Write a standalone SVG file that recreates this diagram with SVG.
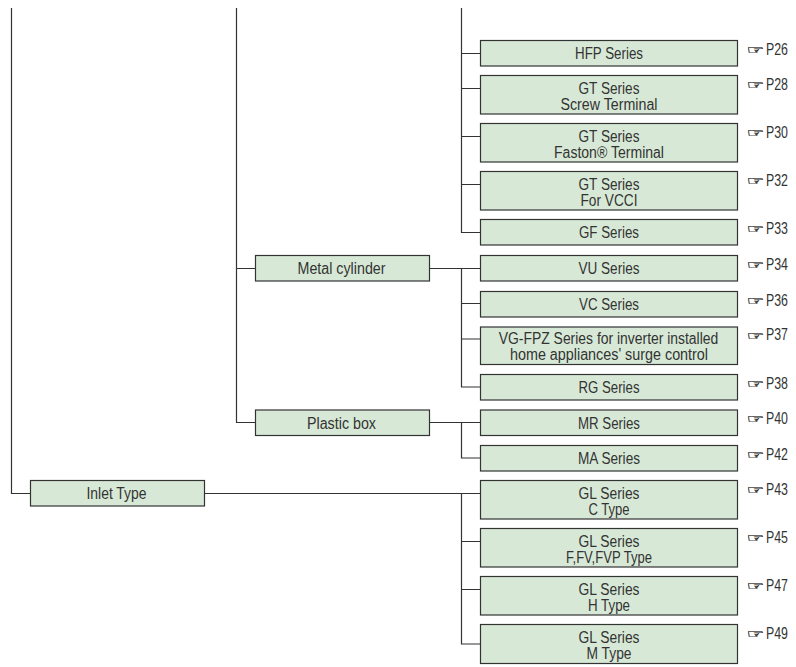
<svg xmlns="http://www.w3.org/2000/svg" width="796" height="667" viewBox="0 0 796 667">
<style>
.b{fill:#d7e9d6;stroke:#333;stroke-width:1.2}
.t{font-family:"Liberation Sans",Arial,sans-serif;font-size:16px;fill:#333;text-anchor:middle}
.r{font-family:"Liberation Sans",Arial,sans-serif;font-size:16px;fill:#333}
.h{font-family:"DejaVu Sans",sans-serif;font-size:12px;fill:#222;stroke:#222;stroke-width:.2}
.c{fill:none;stroke:#333;stroke-width:1.2}
</style>
<rect width="796" height="667" fill="#fff"/>
<g id="connectors" class="c">
<path d="M11.5 8V493.5H30.5"/>
<path d="M236.5 8V422.5H255.5M236.5 268.5H255.5"/>
<path d="M461.5 8V232.5H480.5M461.5 53.5H480.5M461.5 88.5H480.5M461.5 136.5H480.5M461.5 184.5H480.5"/>
<path d="M429.5 268.5H480.5M461.5 268.5V387H480.5M461.5 303.5H480.5M461.5 339H480.5"/>
<path d="M429.5 422.5H480.5M461.5 422.5V458H480.5"/>
<path d="M204.5 493.5H480.5M461.5 493.5V644H480.5M461.5 541.5H480.5M461.5 589.5H480.5"/>
</g>
<g id="n-hfp"><rect class="b" x="480.5" y="40.5" width="257" height="25.5"/><text class="t" x="609" y="59" textLength="68" lengthAdjust="spacingAndGlyphs">HFP Series</text><text x="746.5" y="54" class="h" textLength="18" lengthAdjust="spacingAndGlyphs">☞</text><text x="766" y="54.5" class="r" textLength="22" lengthAdjust="spacingAndGlyphs">P26</text></g>
<g id="n-gt1"><rect class="b" x="480.5" y="75.5" width="257" height="38.5"/><text class="t" x="609" y="93.5" textLength="61" lengthAdjust="spacingAndGlyphs">GT Series</text><text class="t" x="609" y="109.5" textLength="97" lengthAdjust="spacingAndGlyphs">Screw Terminal</text><text x="746.5" y="89" class="h" textLength="18" lengthAdjust="spacingAndGlyphs">☞</text><text x="766" y="89.5" class="r" textLength="22" lengthAdjust="spacingAndGlyphs">P28</text></g>
<g id="n-gt2"><rect class="b" x="480.5" y="123.5" width="257" height="38.5"/><text class="t" x="609" y="141.5" textLength="61" lengthAdjust="spacingAndGlyphs">GT Series</text><text class="t" x="609" y="157.5" textLength="110" lengthAdjust="spacingAndGlyphs">Faston® Terminal</text><text x="746.5" y="137" class="h" textLength="18" lengthAdjust="spacingAndGlyphs">☞</text><text x="766" y="137.5" class="r" textLength="22" lengthAdjust="spacingAndGlyphs">P30</text></g>
<g id="n-gt3"><rect class="b" x="480.5" y="171.5" width="257" height="38.5"/><text class="t" x="609" y="189.5" textLength="61" lengthAdjust="spacingAndGlyphs">GT Series</text><text class="t" x="609" y="205.5" textLength="57" lengthAdjust="spacingAndGlyphs">For VCCI</text><text x="746.5" y="185" class="h" textLength="18" lengthAdjust="spacingAndGlyphs">☞</text><text x="766" y="185.5" class="r" textLength="22" lengthAdjust="spacingAndGlyphs">P32</text></g>
<g id="n-gf"><rect class="b" x="480.5" y="219.5" width="257" height="25.5"/><text class="t" x="609" y="238" textLength="60" lengthAdjust="spacingAndGlyphs">GF Series</text><text x="746.5" y="233" class="h" textLength="18" lengthAdjust="spacingAndGlyphs">☞</text><text x="766" y="233.5" class="r" textLength="22" lengthAdjust="spacingAndGlyphs">P33</text></g>
<g id="n-metal"><rect class="b" x="255.5" y="255.5" width="174" height="25.5"/><text class="t" x="341.5" y="274" textLength="88" lengthAdjust="spacingAndGlyphs">Metal cylinder</text></g>
<g id="n-vu"><rect class="b" x="480.5" y="255.5" width="257" height="25.5"/><text class="t" x="609" y="274" textLength="61" lengthAdjust="spacingAndGlyphs">VU Series</text><text x="746.5" y="269" class="h" textLength="18" lengthAdjust="spacingAndGlyphs">☞</text><text x="766" y="269.5" class="r" textLength="22" lengthAdjust="spacingAndGlyphs">P34</text></g>
<g id="n-vc"><rect class="b" x="480.5" y="291.5" width="257" height="25.5"/><text class="t" x="609" y="310" textLength="60" lengthAdjust="spacingAndGlyphs">VC Series</text><text x="746.5" y="305" class="h" textLength="18" lengthAdjust="spacingAndGlyphs">☞</text><text x="766" y="305.5" class="r" textLength="22" lengthAdjust="spacingAndGlyphs">P36</text></g>
<g id="n-vg"><rect class="b" x="480.5" y="327" width="257" height="37.5"/><text class="t" transform="translate(608.5 344) scale(.87 1)">VG-FPZ Series for inverter installed</text><text class="t" x="609" y="360" textLength="198" lengthAdjust="spacingAndGlyphs">home appliances' surge control</text><text x="746.5" y="339.5" class="h" textLength="18" lengthAdjust="spacingAndGlyphs">☞</text><text x="766" y="340" class="r" textLength="22" lengthAdjust="spacingAndGlyphs">P37</text></g>
<g id="n-rg"><rect class="b" x="480.5" y="374.5" width="257" height="25.5"/><text class="t" x="609" y="393" textLength="61" lengthAdjust="spacingAndGlyphs">RG Series</text><text x="746.5" y="388" class="h" textLength="18" lengthAdjust="spacingAndGlyphs">☞</text><text x="766" y="388.5" class="r" textLength="22" lengthAdjust="spacingAndGlyphs">P38</text></g>
<g id="n-plastic"><rect class="b" x="255.5" y="410" width="174" height="25.5"/><text class="t" x="341.5" y="429" textLength="69" lengthAdjust="spacingAndGlyphs">Plastic box</text></g>
<g id="n-mr"><rect class="b" x="480.5" y="410" width="257" height="25.5"/><text class="t" x="609" y="429" textLength="62" lengthAdjust="spacingAndGlyphs">MR Series</text><text x="746.5" y="423" class="h" textLength="18" lengthAdjust="spacingAndGlyphs">☞</text><text x="766" y="423.5" class="r" textLength="22" lengthAdjust="spacingAndGlyphs">P40</text></g>
<g id="n-ma"><rect class="b" x="480.5" y="445.5" width="257" height="25.5"/><text class="t" x="609" y="464" textLength="62" lengthAdjust="spacingAndGlyphs">MA Series</text><text x="746.5" y="459" class="h" textLength="18" lengthAdjust="spacingAndGlyphs">☞</text><text x="766" y="459.5" class="r" textLength="22" lengthAdjust="spacingAndGlyphs">P42</text></g>
<g id="n-inlet"><rect class="b" x="30.5" y="480.5" width="174" height="25.5"/><text class="t" x="116.5" y="499" textLength="60" lengthAdjust="spacingAndGlyphs">Inlet Type</text></g>
<g id="n-gl1"><rect class="b" x="480.5" y="480.5" width="257" height="38.5"/><text class="t" x="609" y="498.5" textLength="61" lengthAdjust="spacingAndGlyphs">GL Series</text><text class="t" x="609" y="514.5" textLength="41" lengthAdjust="spacingAndGlyphs">C Type</text><text x="746.5" y="494" class="h" textLength="18" lengthAdjust="spacingAndGlyphs">☞</text><text x="766" y="494.5" class="r" textLength="22" lengthAdjust="spacingAndGlyphs">P43</text></g>
<g id="n-gl2"><rect class="b" x="480.5" y="528.5" width="257" height="38.5"/><text class="t" x="609" y="546.5" textLength="61" lengthAdjust="spacingAndGlyphs">GL Series</text><text class="t" x="609" y="562.5" textLength="86" lengthAdjust="spacingAndGlyphs">F,FV,FVP Type</text><text x="746.5" y="542" class="h" textLength="18" lengthAdjust="spacingAndGlyphs">☞</text><text x="766" y="542.5" class="r" textLength="22" lengthAdjust="spacingAndGlyphs">P45</text></g>
<g id="n-gl3"><rect class="b" x="480.5" y="576.5" width="257" height="38.5"/><text class="t" x="609" y="594.5" textLength="61" lengthAdjust="spacingAndGlyphs">GL Series</text><text class="t" x="609" y="610.5" textLength="42" lengthAdjust="spacingAndGlyphs">H Type</text><text x="746.5" y="590" class="h" textLength="18" lengthAdjust="spacingAndGlyphs">☞</text><text x="766" y="590.5" class="r" textLength="22" lengthAdjust="spacingAndGlyphs">P47</text></g>
<g id="n-gl4"><rect class="b" x="480.5" y="624.5" width="257" height="39"/><text class="t" x="609" y="642.5" textLength="61" lengthAdjust="spacingAndGlyphs">GL Series</text><text class="t" x="609" y="658.5" textLength="45" lengthAdjust="spacingAndGlyphs">M Type</text><text x="746.5" y="638" class="h" textLength="18" lengthAdjust="spacingAndGlyphs">☞</text><text x="766" y="638.5" class="r" textLength="22" lengthAdjust="spacingAndGlyphs">P49</text></g>
</svg>
